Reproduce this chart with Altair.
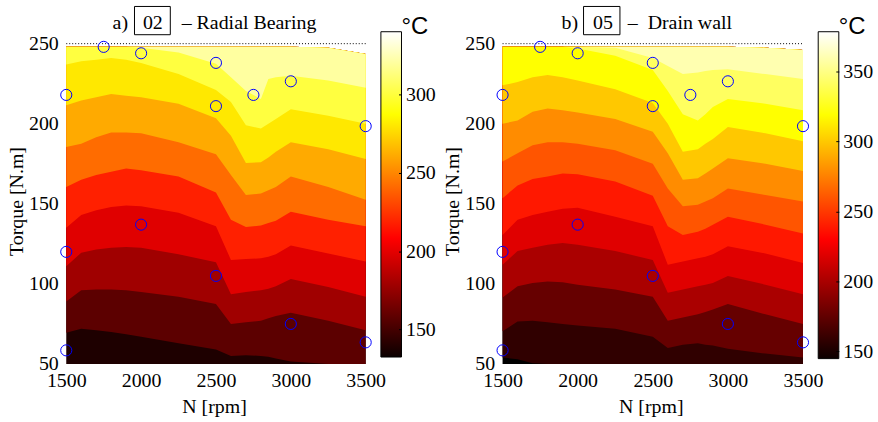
import altair as alt
import pandas as pd

# ---------------- data ----------------
N_GRID = [1500, 1600, 1700, 1800, 1900, 2000, 2250, 2500, 2600, 2700, 2800, 2850, 2900, 3000, 3250, 3500]
T_FLOOR = 50
FRAME = {"n0": [1500], "n1": [3500], "t": [250]}   # top frame line of the axes box

# panel a) 02 - Radial Bearing : contour band boundaries (torque, N.m) along N_GRID
A_TOP = [248, 248, 248, 248, 248, 248, 248, 248, 248, 248, 248, 248, 248, 248, 247.5, 243.5]
A_B1 = [69.5, 72, 71, 70, 68.5, 67, 63, 59, 55, 55.5, 55, 54.5, 53.5, 51.5, 50, 50]
A_B2 = [89, 96, 96.5, 96.5, 96, 95, 92, 87.5, 75, 76, 77, 78.5, 80, 82, 77, 71]
A_B3 = [111, 119.5, 121.5, 122.5, 123, 122.5, 118.5, 113.5, 93.5, 95, 96, 97, 98.5, 103, 98, 92]
A_B4 = [135, 143, 146, 148, 149, 148.5, 144.5, 136, 115, 115.5, 116, 117, 118.5, 124, 119, 114]
A_B5 = [160.5, 165, 168, 170, 172, 171, 167, 157, 140, 135.5, 136.5, 138, 139.5, 145, 140, 136]
A_B6 = [185.5, 187.5, 191.5, 194.5, 194.5, 194, 188.5, 181, 168, 155.5, 156.5, 158.5, 160.5, 167, 160.5, 152.5]
A_B7 = [211.5, 214.5, 216.5, 218.5, 217.5, 216.5, 212.5, 203.5, 192.5, 175.5, 176, 179, 182.5, 188.5, 184, 178]
A_B8 = [237, 239, 240, 241, 240, 238, 231, 221, 213.5, 199, 197, 200, 203, 209, 205, 200]
A_B9 = [248, 248, 248, 248, 248, 247.5, 244.5, 237.5, 229, 220.5, 215.5, 228, 229, 230, 227, 222.5]
A_CBAR = [132.4, 340.2]
A_CBAR_TICKS = [150, 200, 250, 300]
A_TITLE = "a)\u00a0\u00a0\u00a002\u00a0\u00a0\u00a0\u2009\u2013 Radial Bearing"

# panel b) 05 - Drain wall
B_TOP = [248, 248, 248, 248, 248, 248, 248, 248, 248, 248, 248, 248, 248, 248, 247.5, 246]
B_B0 = [54, 53, 50.5, 50, 50, 50, 50, 50, 50, 50, 50, 50, 50, 50, 50, 50]
B_B1 = [70.5, 76.5, 77, 76, 75, 74, 72, 67, 60, 62, 63, 62, 61.5, 59.5, 56.5, 54]
B_B2 = [91.5, 98.5, 100.5, 101.5, 101, 99.5, 96.5, 92, 77, 79, 81, 82.5, 84, 87.5, 81, 75]
B_B3 = [112, 120.5, 122.5, 124.5, 125.5, 124.5, 120.5, 115, 94.5, 96.5, 98.5, 99.5, 100.5, 105, 99.5, 93.5]
B_B4 = [130.5, 140, 143, 145, 147, 147.5, 142, 136, 112, 114, 116, 117, 118.5, 123.5, 119, 113]
B_B5 = [153.5, 161.5, 165.5, 167, 169, 168.5, 164, 155, 136, 130.5, 132.5, 134.5, 137, 142, 137, 131.5]
B_B6 = [176.5, 181.5, 186.5, 188.5, 188.5, 187.5, 183.5, 175, 159.5, 148.5, 149.5, 151.5, 153.5, 159.5, 155.5, 151.5]
B_B7 = [200, 202, 207.5, 209.5, 208.5, 207, 203, 195, 181.5, 165, 166, 169, 172, 178.5, 175, 170.5]
B_B8 = [224, 226, 229, 230.5, 229, 227, 221.5, 213, 200, 182.5, 184, 187.5, 190.5, 198, 194, 189]
B_B9 = [248, 248, 248, 248, 248, 247, 242.5, 233.5, 220.5, 206, 202, 206, 210.5, 215.5, 212.5, 208.5]
B_B10 = [248, 248, 248, 248, 248, 248, 247.5, 241, 236, 231, 232, 233, 233.5, 234, 231, 228]
B_CBAR = [144.6, 378.7]
B_CBAR_TICKS = [150, 200, 250, 300, 350]
B_TITLE = "b)\u00a0\u00a0\u00a005\u00a0\u00a0\u00a0\u2013\u00a0\u00a0Drain wall"

# measurement points (same in both panels)
PTS_N = [1500, 1500, 1500, 1750, 2000, 2000, 2500, 2500, 2500, 2750, 3000, 3000, 3500, 3500]
PTS_T = [58.5, 120, 218, 248, 244, 137, 238, 211, 105, 218, 226.5, 75, 198.5, 63.5]

# ---------------- styles ----------------
A_COLORS = ["#1e0000", "#5c0000", "#a00000", "#e00000", "#ff2000", "#ff6c00",
            "#ffaa00", "#ffe800", "#ffff40", "#ffffa0"]
B_COLORS = ["#000000", "#300000", "#660000", "#aa0000", "#e00000", "#ff1800",
            "#ff5500", "#ff8c00", "#ffc800", "#ffff00", "#ffff60", "#ffffb0"]

SERIF = "Liberation Serif"
SANS = "Liberation Sans"
H = 322
BAR_W = 20.7
GAP = 15.3
CB_A_W = 106.4    # colorbar cell width for panel a (leaves room before panel b)
CB_B_W = 40

HOT = alt.Gradient(
    gradient="linear",
    stops=[alt.GradientStop(color="#0b0000", offset=0),
           alt.GradientStop(color="#ff0000", offset=0.365),
           alt.GradientStop(color="#ffff00", offset=0.746),
           alt.GradientStop(color="#ffffff", offset=1)],
    x1=0, x2=0, y1=1, y2=0,
)


def plot_panel(width, top, bounds, colors, title, dx):
    cols = {"N": N_GRID, "top": top, "b_floor": [T_FLOOR] * len(N_GRID)}
    names = ["b_floor"]
    for i, b in enumerate(bounds):
        cols[f"b{i}"] = b
        names.append(f"b{i}")
    df = pd.DataFrame(cols)

    xsc = alt.Scale(domain=[1500, 3500], nice=False, zero=False)
    ysc = alt.Scale(domain=[50, 250], nice=False, zero=False)
    x_axis = alt.Axis(values=[1500, 2000, 2500, 3000, 3500], format="d", title="N [rpm]",
                      grid=False, domain=False, ticks=False, labelPadding=7,
                      labelFont=SERIF, labelFontSize=20, labelColor="black",
                      labelFlush=False, labelOverlap=False,
                      titleFont=SERIF, titleFontSize=20, titleFontWeight="normal",
                      titleColor="black", titleX=width / 2 - 2, titleY=49,
                      titleBaseline="alphabetic")
    y_axis = alt.Axis(values=[50, 100, 150, 200, 250], format="d", title="Torque [N.m]",
                      grid=False, domain=False, ticks=False, labelPadding=8,
                      labelFont=SERIF, labelFontSize=20, labelColor="black",
                      labelFlush=False, labelOverlap=False,
                      titleFont=SERIF, titleFontSize=20, titleFontWeight="normal",
                      titleColor="black", titleAngle=270, titleAlign="center",
                      titleBaseline="alphabetic", titleX=-44.1, titleY=158.2)

    layers = []
    for name, c in zip(names, colors):
        layers.append(
            alt.Chart(df).mark_area(color=c, interpolate="linear").encode(
                x=alt.X("N:Q", scale=xsc, axis=x_axis),
                y=alt.Y(f"{name}:Q", scale=ysc, axis=y_axis),
                y2=alt.Y2("top:Q"),
            )
        )
    layers.append(
        alt.Chart(pd.DataFrame(FRAME)).mark_rule(
            color="black", strokeDash=[1, 2], strokeWidth=1
        ).encode(x=alt.X("n0:Q", scale=xsc, axis=x_axis), x2="n1:Q",
                 y=alt.Y("t:Q", scale=ysc, axis=y_axis))
    )
    pts = pd.DataFrame({"N": PTS_N, "T": PTS_T})
    layers.append(
        alt.Chart(pts).mark_point(shape="circle", filled=False, color="#0000ff",
                                  size=125, strokeWidth=1, opacity=1).encode(
            x=alt.X("N:Q", scale=xsc, axis=x_axis),
            y=alt.Y("T:Q", scale=ysc, axis=y_axis),
        )
    )
    return alt.layer(*layers).properties(
        width=width, height=H,
        title=alt.TitleParams(text=title, font=SERIF, fontSize=20, fontWeight="normal",
                              color="black", anchor="middle", baseline="alphabetic",
                              frame="group", offset=-15, dx=dx),
    )


def colorbar(cbar, cbar_ticks, bar_b, cell_w, boxes=None, bar_t=-12.0):
    lo, hi = cbar
    k = (bar_b - bar_t) / (hi - lo)
    d1 = hi + bar_t / k
    d0 = d1 - H / k
    csc = alt.Scale(domain=[d0, d1], nice=False, zero=False)
    cdf = pd.DataFrame({"c": ["bar"], "lo": [lo], "hi": [hi]})
    cax = alt.Axis(orient="right", values=cbar_ticks, format="d", offset=BAR_W - 3 - cell_w,
                   tickSize=3, ticks=True, tickColor="black", tickWidth=1,
                   domain=False, grid=False, labelPadding=4,
                   labelFont=SERIF, labelFontSize=20, labelColor="black", labelFlush=False,
                   labelOverlap=False,
                   title="\u00b0C", titleFont=SANS, titleFontSize=24, titleFontWeight="normal",
                   titleColor="black", titleAngle=0, titleAlign="left",
                   titleBaseline="alphabetic", titleX=2.5, titleY=-10.4, zindex=1)
    bar = alt.Chart(cdf).mark_rect(fill=HOT, stroke="black", strokeWidth=1).encode(
        x=alt.X("c:N", axis=None,
                scale=alt.Scale(paddingInner=0, paddingOuter=0, range=[0, BAR_W])),
        y=alt.Y("lo:Q", scale=csc, axis=cax), y2=alt.Y2("hi:Q"),
    )
    if not boxes:
        return bar.properties(width=cell_w, height=H)
    layers = [bar]
    # frames drawn round the panel numbers "02" / "05" of the titles
    for (bl, br) in boxes:
        layers.append(
            alt.Chart(cdf).mark_rect(fill="transparent", stroke="black", strokeWidth=1)
            .encode(x=alt.value(bl), x2=alt.value(br), y=alt.value(-37.4), y2=alt.value(-9))
        )
    return alt.layer(*layers).properties(width=cell_w, height=H)


pa = plot_panel(301, A_TOP, [A_B1, A_B2, A_B3, A_B4, A_B5, A_B6, A_B7, A_B8, A_B9],
                A_COLORS, A_TITLE, -1.5)
ca = colorbar(A_CBAR, A_CBAR_TICKS, 315.0, CB_A_W,
              boxes=[(-247.7, -211.7), (203.7, 240.3)])
pb = plot_panel(302, B_TOP, [B_B0, B_B1, B_B2, B_B3, B_B4, B_B5, B_B6, B_B7, B_B8, B_B9, B_B10],
                B_COLORS, B_TITLE, -6)
cb = colorbar(B_CBAR, B_CBAR_TICKS, 316.6, CB_B_W)

chart = alt.hconcat(pa, ca, pb, cb, spacing=GAP, bounds="flush").properties(
    padding={"left": 5.6, "top": 4.8, "right": 5, "bottom": 0},
    background="white",
).configure_view(stroke=None)

chart.save("out.html", embed_options={"renderer": "svg", "actions": False})
